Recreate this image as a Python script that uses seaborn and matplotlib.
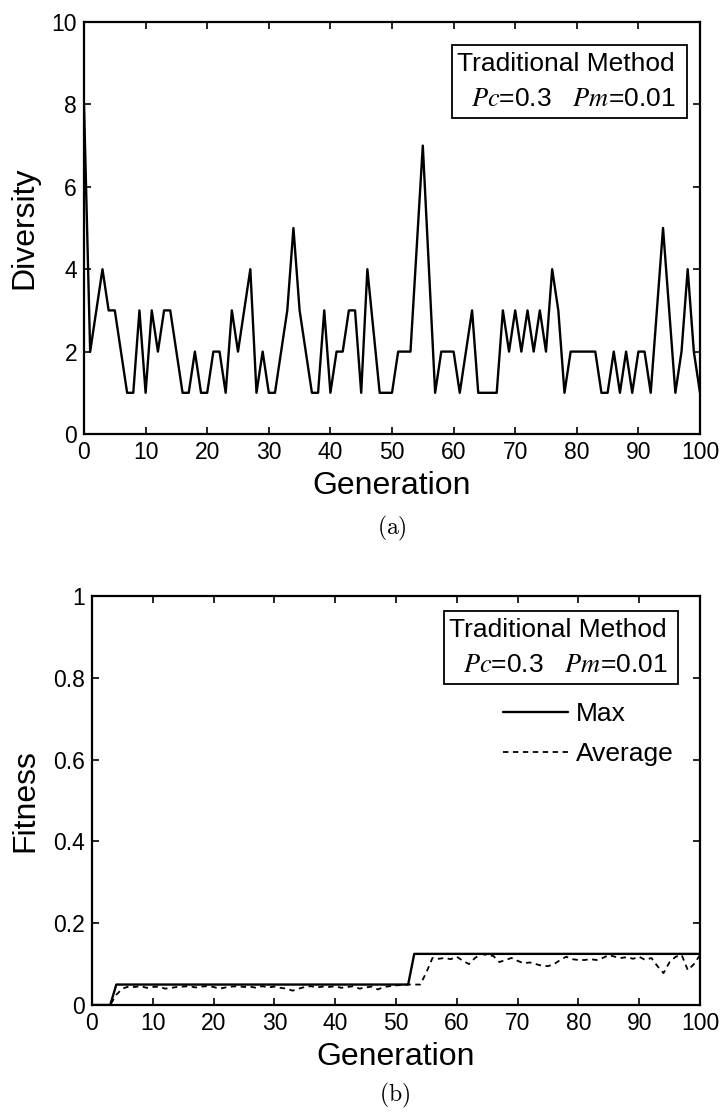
import matplotlib
matplotlib.use("Agg")
import matplotlib.pyplot as plt
from matplotlib.patches import Rectangle
import numpy as np
import pandas as pd
import seaborn as sns

# ---------------- data ----------------
generations = list(range(0, 101))

diversity = [8, 2, 3, 4, 3, 3, 2, 1, 1, 3,
             1, 3, 2, 3, 3, 2, 1, 1, 2, 1,
             1, 2, 2, 1, 3, 2, 3, 4, 1, 2,
             1, 1, 2, 3, 5, 3, 2, 1, 1, 3,
             1, 2, 2, 3, 3, 1, 4, 2.5, 1, 1,
             1, 2, 2, 2, 4.5, 7, 4, 1, 2, 2,
             2, 1, 2, 3, 1, 1, 1, 1, 3, 2,
             3, 2, 3, 2, 3, 2, 4, 3, 1, 2,
             2, 2, 2, 2, 1, 1, 2, 1, 2, 1,
             2, 2, 1, 3, 5, 3, 1, 2, 4, 2,
             1]

fitness_max = [0, 0, 0, 0, 0.05, 0.05, 0.05, 0.05, 0.05, 0.05,
               0.05, 0.05, 0.05, 0.05, 0.05, 0.05, 0.05, 0.05, 0.05, 0.05,
               0.05, 0.05, 0.05, 0.05, 0.05, 0.05, 0.05, 0.05, 0.05, 0.05,
               0.05, 0.05, 0.05, 0.05, 0.05, 0.05, 0.05, 0.05, 0.05, 0.05,
               0.05, 0.05, 0.05, 0.05, 0.05, 0.05, 0.05, 0.05, 0.05, 0.05,
               0.05, 0.05, 0.05, 0.125, 0.125, 0.125, 0.125, 0.125, 0.125, 0.125,
               0.125, 0.125, 0.125, 0.125, 0.125, 0.125, 0.125, 0.125, 0.125, 0.125,
               0.125, 0.125, 0.125, 0.125, 0.125, 0.125, 0.125, 0.125, 0.125, 0.125,
               0.125, 0.125, 0.125, 0.125, 0.125, 0.125, 0.125, 0.125, 0.125, 0.125,
               0.125, 0.125, 0.125, 0.125, 0.125, 0.125, 0.125, 0.125, 0.125, 0.125,
               0.125]

fitness_avg = [0, 0, 0, 0, 0.025, 0.04, 0.045, 0.044, 0.046, 0.042,
               0.044, 0.045, 0.040, 0.042, 0.044, 0.045, 0.046, 0.043, 0.045, 0.046,
               0.044, 0.040, 0.043, 0.045, 0.046, 0.044, 0.045, 0.042, 0.046, 0.043,
               0.045, 0.042, 0.040, 0.035, 0.040, 0.044, 0.046, 0.043, 0.045, 0.044,
               0.046, 0.042, 0.044, 0.046, 0.040, 0.043, 0.045, 0.038, 0.044, 0.046,
               0.048, 0.049, 0.050, 0.050, 0.050, 0.080, 0.115, 0.113, 0.115, 0.112,
               0.118, 0.108, 0.100, 0.115, 0.125, 0.122, 0.120, 0.105, 0.110, 0.115,
               0.108, 0.102, 0.104, 0.100, 0.096, 0.095, 0.100, 0.110, 0.118, 0.112,
               0.110, 0.110, 0.112, 0.110, 0.115, 0.122, 0.118, 0.115, 0.117, 0.113,
               0.118, 0.110, 0.115, 0.095, 0.078, 0.105, 0.118, 0.122, 0.085, 0.100,
               0.122]

x_ticks = [0, 10, 20, 30, 40, 50, 60, 70, 80, 90, 100]
div_ticks = [0, 2, 4, 6, 8, 10]
fit_ticks = [0, 0.2, 0.4, 0.6, 0.8, 1]
fit_tick_labels = ["0", "0.2", "0.4", "0.6", "0.8", "1"]

df_div = pd.DataFrame({"Generation": generations, "Diversity": diversity})
df_fit = pd.DataFrame({"Generation": generations, "Max": fitness_max,
                       "Average": fitness_avg})

# ---------------- style ----------------
sns.set_theme(style="ticks")
plt.rcParams["font.family"] = ["Liberation Sans", "DejaVu Sans"]
plt.rcParams["mathtext.fontset"] = "stix"
plt.rcParams["axes.linewidth"] = 1.5
plt.rcParams["xtick.direction"] = "in"
plt.rcParams["ytick.direction"] = "in"
plt.rcParams["text.color"] = "black"
plt.rcParams["axes.labelcolor"] = "black"

W, H = 722, 1113
fig = plt.figure(figsize=(W / 100, H / 100), dpi=100)
fig.patch.set_facecolor("white")


def fx(px):
    return px / W


def fy(py):
    return 1 - py / H


ax1 = fig.add_axes([fx(84), fy(434), fx(700) - fx(84), fy(22) - fy(434)])
ax2 = fig.add_axes([fx(92), fy(1005), fx(700) - fx(92), fy(596) - fy(1005)])

# ---------------- (a) Diversity ----------------
sns.lineplot(data=df_div, x="Generation", y="Diversity", ax=ax1,
             color="black", linewidth=1.7)
ax1.set_xlim(0, 100)
ax1.set_ylim(0, 10)
ax1.set_xticks(x_ticks)
ax1.set_yticks(div_ticks)

# ---------------- (b) Fitness ----------------
sns.lineplot(data=df_fit, x="Generation", y="Max", ax=ax2,
             color="black", linewidth=1.7, label="Max")
sns.lineplot(data=df_fit, x="Generation", y="Average", ax=ax2,
             color="black", linewidth=1.3, linestyle=(0, (3, 2.5)),
             label="Average")
ax2.set_xlim(0, 100)
ax2.set_ylim(0, 1)
ax2.set_xticks(x_ticks)
ax2.set_yticks(fit_ticks)
ax2.set_yticklabels(fit_tick_labels)
ax2.set_ylabel("Fitness")

for ax in (ax1, ax2):
    ax.set_facecolor("white")
    for s in ax.spines.values():
        s.set_visible(True)
        s.set_color("black")
        s.set_linewidth(1.6)
    ax.tick_params(axis="both", which="both", direction="in", length=5,
                   width=1.2, top=True, right=True, labelsize=16.5,
                   colors="black", pad=5)
    ax.set_xlabel("Generation", fontsize=23, labelpad=5, color="black")
    ax.yaxis.label.set_size(23)
    ax.yaxis.label.set_color("black")
    ax.yaxis.labelpad = 9
    ax.grid(False)

# legend for (b)
ax2.legend(loc="upper left", bbox_to_anchor=(fx(503), fy(702)),
           bbox_transform=fig.transFigure, frameon=False, fontsize=19,
           handlelength=2.45, handletextpad=0.3, labelspacing=0.62,
           borderpad=0, borderaxespad=0, labelcolor="black")

# annotation boxes
def info_box(x0, y0, x1, y1, xr, y_line1, y_line2):
    fig.add_artist(Rectangle((fx(x0), fy(y1)), fx(x1) - fx(x0), fy(y0) - fy(y1),
                             transform=fig.transFigure, fill=True,
                             facecolor="white", edgecolor="black", lw=1.3))
    fig.text(fx(xr), fy(y_line1), "Traditional Method", ha="right",
             va="center", fontsize=19, color="black")
    fig.text(fx(xr), fy(y_line2), r"$Pc$=0.3   $Pm$=0.01", ha="right",
             va="center", fontsize=19, color="black")


info_box(452, 45, 687, 118, 675, 64, 99)
info_box(444, 611, 678, 684, 667, 630, 665)

# sub captions
fig.text(fx(392), fy(528), r"$\mathrm{(a)}$", ha="center", va="center",
         fontsize=17, math_fontfamily="cm", color="black")
fig.text(fx(395), fy(1095), r"$\mathrm{(b)}$", ha="center", va="center",
         fontsize=17, math_fontfamily="cm", color="black")

fig.savefig("out.png", dpi=100, facecolor="white")
